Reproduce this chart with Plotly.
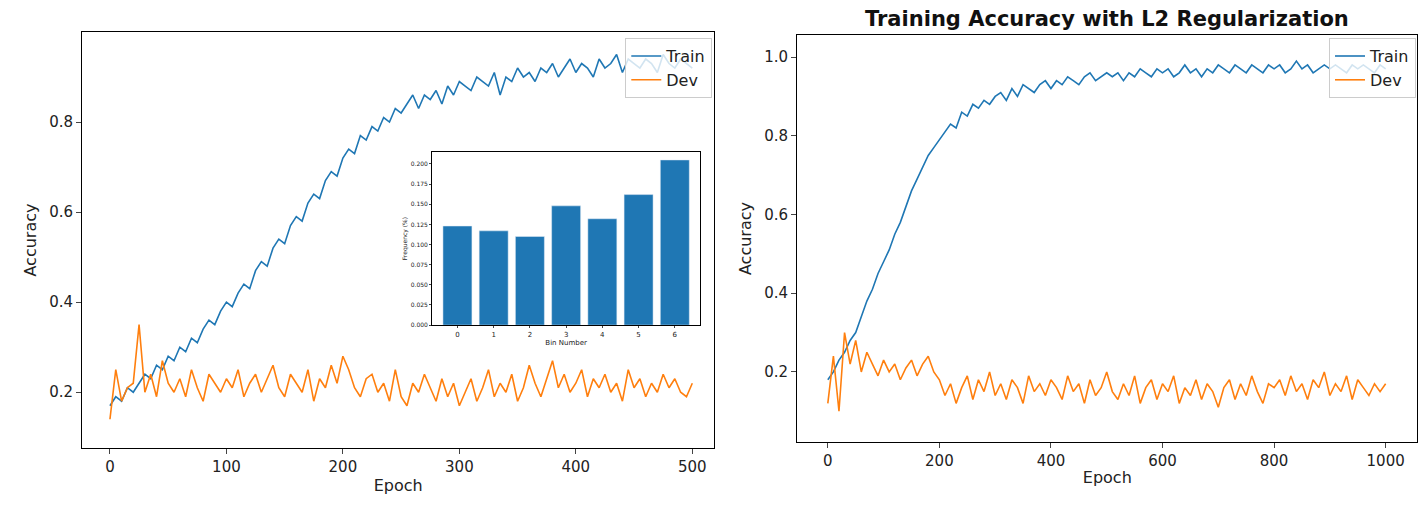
import plotly.graph_objects as go

BLUE = "#1f77b4"
ORANGE = "#ff7f0e"

# left panel, sampled every 5 epochs
left_epochs = list(range(0, 501, 5))
left_train = [0.17,0.19,0.18,0.21,0.20,0.22,0.24,0.23,0.26,0.25,0.28,
              0.27,0.30,0.29,0.32,0.31,0.34,0.36,0.35,0.38,0.40,
              0.39,0.42,0.44,0.43,0.47,0.49,0.48,0.52,0.54,0.53,
              0.57,0.59,0.58,0.62,0.64,0.63,0.67,0.69,0.68,0.72,
              0.74,0.73,0.77,0.76,0.79,0.78,0.81,0.80,0.83,0.82,
              0.84,0.86,0.83,0.86,0.85,0.87,0.84,0.88,0.86,0.89,
              0.88,0.87,0.90,0.89,0.88,0.91,0.86,0.90,0.89,0.92,
              0.90,0.91,0.89,0.92,0.91,0.93,0.90,0.92,0.94,0.91,
              0.93,0.92,0.90,0.94,0.92,0.93,0.95,0.91,0.94,0.93,
              0.92,0.94,0.93,0.91,0.95,0.93,0.92,0.94,0.93,0.92]
left_dev = [0.14,0.25,0.18,0.21,0.22,0.35,0.20,0.24,0.19,0.27,0.22,
            0.20,0.23,0.19,0.25,0.21,0.18,0.24,0.22,0.20,0.23,
            0.21,0.25,0.19,0.22,0.24,0.20,0.23,0.26,0.21,0.19,
            0.24,0.22,0.20,0.25,0.18,0.23,0.21,0.26,0.22,0.28,
            0.25,0.21,0.19,0.23,0.24,0.20,0.22,0.18,0.25,0.19,
            0.17,0.22,0.20,0.24,0.21,0.18,0.23,0.19,0.22,0.17,
            0.20,0.23,0.18,0.21,0.25,0.19,0.22,0.20,0.24,0.18,
            0.21,0.26,0.22,0.19,0.23,0.27,0.21,0.24,0.20,0.22,
            0.25,0.19,0.23,0.21,0.24,0.20,0.22,0.18,0.25,0.21,
            0.23,0.19,0.22,0.20,0.24,0.21,0.23,0.20,0.19,0.22]

# inset histogram
bins = [0, 1, 2, 3, 4, 5, 6]
bin_freq = [0.123, 0.117, 0.110, 0.148, 0.132, 0.162, 0.205]

# right panel, sampled every 10 epochs
right_epochs = list(range(0, 1001, 10))
right_train = [0.18,0.20,0.23,0.25,0.28,0.30,0.34,0.38,0.41,0.45,0.48,
               0.51,0.55,0.58,0.62,0.66,0.69,0.72,0.75,0.77,0.79,
               0.81,0.83,0.82,0.86,0.85,0.88,0.87,0.89,0.88,0.90,
               0.91,0.89,0.92,0.90,0.93,0.92,0.91,0.93,0.94,0.92,
               0.94,0.93,0.95,0.94,0.93,0.95,0.96,0.94,0.95,0.96,
               0.95,0.96,0.94,0.96,0.95,0.97,0.96,0.95,0.97,0.96,
               0.97,0.95,0.96,0.98,0.96,0.97,0.95,0.97,0.96,0.98,
               0.97,0.96,0.98,0.97,0.96,0.98,0.97,0.96,0.98,0.97,
               0.98,0.96,0.97,0.99,0.97,0.98,0.96,0.97,0.98,0.97,
               0.98,0.97,0.96,0.98,0.97,0.98,0.97,0.96,0.98,0.97]
right_dev = [0.12,0.24,0.10,0.30,0.22,0.28,0.20,0.25,0.22,0.19,0.23,
             0.20,0.22,0.18,0.21,0.23,0.19,0.22,0.24,0.20,0.18,
             0.14,0.17,0.12,0.16,0.19,0.13,0.18,0.15,0.20,0.14,
             0.17,0.13,0.18,0.16,0.12,0.19,0.15,0.17,0.14,0.18,
             0.16,0.13,0.19,0.15,0.17,0.12,0.18,0.14,0.16,0.20,
             0.15,0.13,0.17,0.14,0.19,0.12,0.16,0.18,0.13,0.17,
             0.15,0.19,0.12,0.16,0.14,0.18,0.13,0.17,0.15,0.11,
             0.16,0.18,0.13,0.17,0.14,0.19,0.15,0.12,0.17,0.16,
             0.18,0.14,0.19,0.15,0.17,0.13,0.18,0.16,0.20,0.14,
             0.17,0.15,0.19,0.13,0.18,0.16,0.14,0.17,0.15,0.17]

fig = go.Figure()

fig.add_scatter(x=left_epochs, y=left_train, mode="lines", name="Train",
                line=dict(color=BLUE, width=1.6), xaxis="x", yaxis="y", legend="legend")
fig.add_scatter(x=left_epochs, y=left_dev, mode="lines", name="Dev",
                line=dict(color=ORANGE, width=1.6), xaxis="x", yaxis="y", legend="legend")
fig.add_bar(x=bins, y=bin_freq, marker_color=BLUE, width=0.8, showlegend=False,
            xaxis="x3", yaxis="y3")
fig.add_scatter(x=right_epochs, y=right_train, mode="lines", name="Train",
                line=dict(color=BLUE, width=1.6), xaxis="x2", yaxis="y2", legend="legend2")
fig.add_scatter(x=right_epochs, y=right_dev, mode="lines", name="Dev",
                line=dict(color=ORANGE, width=1.6), xaxis="x2", yaxis="y2", legend="legend2")

axis_style = dict(showline=True, linecolor="black", linewidth=1, mirror=True,
                  showgrid=False, zeroline=False, ticks="outside", ticklen=5,
                  automargin=False, tickfont=dict(size=15, color="#222"))

legend_style = dict(bgcolor="rgba(255,255,255,0.8)", bordercolor="#ccc", borderwidth=1,
                    font=dict(size=16), xanchor="right", yanchor="top")

fig.update_layout(
    width=1426, height=508,
    margin=dict(l=0, r=0, t=0, b=0, autoexpand=False),
    paper_bgcolor="white", plot_bgcolor="white",
    font=dict(family="DejaVu Sans", color="#222"),
    xaxis=dict(axis_style, domain=[0.0575, 0.501], range=[-24, 519],
               tickvals=[0, 100, 200, 300, 400, 500],
               title=dict(text="Epoch", font=dict(size=16), standoff=4)),
    yaxis=dict(axis_style, domain=[0.118, 0.937], range=[0.076, 1.0],
               tickvals=[0.2, 0.4, 0.6, 0.8],
               title=dict(text="Accuracy", font=dict(size=16), standoff=8)),
    xaxis2=dict(axis_style, domain=[0.559, 0.994], range=[-55, 1057],
                tickvals=[0, 200, 400, 600, 800, 1000], anchor="y2",
                title=dict(text="Epoch", font=dict(size=16), standoff=2)),
    yaxis2=dict(axis_style, domain=[0.130, 0.931], range=[0.022, 1.056],
                tickvals=[0.2, 0.4, 0.6, 0.8, 1.0], tickformat=".1f", anchor="x2",
                title=dict(text="Accuracy", font=dict(size=16), standoff=8)),
    xaxis3=dict(axis_style, domain=[0.303, 0.491], range=[-0.7, 6.7], anchor="y3",
                tickvals=bins, ticklen=2, tickfont=dict(size=7),
                title=dict(text="Bin Number", font=dict(size=7), standoff=2)),
    yaxis3=dict(axis_style, domain=[0.360, 0.701], range=[0, 0.215], anchor="x3",
                tickvals=[0.025 * i for i in range(9)], tickformat=".3f",
                ticklen=2, tickfont=dict(size=6),
                title=dict(text="Frequency (%)", font=dict(size=6), standoff=2)),
    legend=dict(legend_style, x=0.4995, y=0.925),
    legend2=dict(legend_style, x=0.993, y=0.925),
    annotations=[dict(text="<b>Training Accuracy with L2 Regularization</b>",
                      x=0.7765, y=0.99, xref="paper", yref="paper",
                      xanchor="center", yanchor="top", showarrow=False,
                      font=dict(size=21, color="#111"))],
)

# drop the page's default body margin so the figure sits at the window's corner
fig.write_html("out.html", config={"displayModeBar": False},
               post_script="document.body.style.margin='0';")
